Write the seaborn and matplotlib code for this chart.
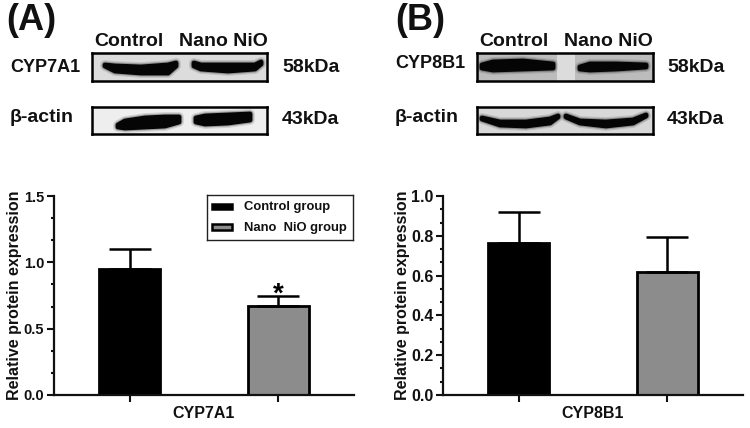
import matplotlib
matplotlib.use('Agg')
import matplotlib.pyplot as plt
import pandas as pd
import seaborn as sns
from matplotlib.patches import Rectangle
from matplotlib.ticker import MultipleLocator

W, H = 750, 428

groups = ["Control group", "Nano  NiO group"]
genes = ["CYP7A1", "CYP8B1"]
means_a = [0.95, 0.67]
upper_a = [1.10, 0.745]
means_b = [0.765, 0.62]
upper_b = [0.92, 0.795]
colors = ["#000000", "#8c8c8c"]

# band outlines on the blots in picture pixels: x, top edge, bottom edge
bands_a_top = [([105, 115, 141, 168, 176], [65, 66, 67, 65, 63], [66, 71, 73, 73, 66]),
               ([194, 201, 228, 255, 261], [63, 65, 65, 65, 62], [66, 69, 71, 69, 64])]
bands_a_bot = [([118, 125, 145, 165, 179], [125, 121, 118, 117, 117], [127, 128, 127, 126, 122]),
               ([196, 205, 228, 250], [118, 116, 115, 114], [122, 124, 123, 120])]
bands_b_top = [([482, 493, 523, 553], [65, 62, 61, 64], [68, 70, 69, 68]),
               ([580, 590, 616, 646], [67, 64, 64, 65], [69, 70, 69, 67])]
bands_b_bot = [([482, 500, 526, 550, 558], [118, 122, 122, 119, 116], [119, 125, 126, 123, 117]),
               ([566, 580, 606, 633, 646], [116, 121, 122, 120, 115], [117, 123, 126, 123, 116])]

sns.set_theme(style="ticks")
plt.rcParams['font.family'] = ['Liberation Sans', 'DejaVu Sans']
plt.rcParams['font.weight'] = 'bold'


def px_axes(fig, x0, y0, x1, y1):
    return fig.add_axes([x0 / W, 1 - y1 / H, (x1 - x0) / W, (y1 - y0) / H])


def label(fig, x, y, s, size, ha='left', **kw):
    fig.text(x / W, 1 - y / H, s, fontsize=size, fontweight='bold', ha=ha, va='center', color='#111111', **kw)


def draw_bars(fig, box, means, upper, ymax, major, minor, tick_size):
    ax = px_axes(fig, *box)
    df = pd.DataFrame({"group": groups, "value": means})
    sns.barplot(data=df, x="group", y="value", hue="group", palette=colors, width=0.41,
                edgecolor="black", linewidth=2, saturation=1, legend=False, ax=ax)
    for i in range(2):
        ax.errorbar(i, means[i], yerr=[[0], [upper[i] - means[i]]], color="black",
                    elinewidth=1.8, capsize=15, capthick=1.8, zorder=1)
    ax.set_xlim(-0.51, 1.51)
    ax.set_ylim(0, ymax)
    ax.yaxis.set_major_locator(MultipleLocator(major))
    ax.yaxis.set_minor_locator(MultipleLocator(minor))
    ax.yaxis.set_major_formatter('{x:.1f}')
    ax.set_xticks([0, 1])
    ax.set_xticklabels(["", ""])
    ax.tick_params(axis='y', which='major', length=5, width=1.5, labelsize=tick_size, pad=2, colors='#111111')
    ax.tick_params(axis='y', which='minor', length=2.5, width=1.5, colors='#111111')
    ax.tick_params(axis='x', length=5, width=1.5, colors='#111111')
    for t in ax.get_yticklabels():
        t.set_fontweight('bold')
    for s in ['top', 'right']:
        ax.spines[s].set_visible(False)
    for s in ['left', 'bottom']:
        ax.spines[s].set_linewidth(1.6)
        ax.spines[s].set_color('#111111')
    ax.set_xlabel("")
    ax.set_ylabel("")
    return ax


def draw_blot(fig, box, bands, bg, gap=None):
    ax = px_axes(fig, *box)
    ax.set_xlim(box[0], box[2])
    ax.set_ylim(box[3], box[1])
    ax.set_facecolor(bg)
    ax.set_xticks([])
    ax.set_yticks([])
    for s in ax.spines.values():
        s.set_linewidth(1.8)
        s.set_color('black')
    if gap:
        ax.axvspan(gap[0], gap[1], color='#dcdcdc', lw=0)
    for xs, top, bottom in bands:
        px = xs + xs[::-1]
        py = top + bottom[::-1]
        # soft halo round the dark band
        ax.fill(px, py, fc='none', ec='black', lw=7, alpha=0.12, joinstyle='round')
        ax.fill(px, py, fc='none', ec='black', lw=5, alpha=0.25, joinstyle='round')
        ax.fill(px, py, fc='#050505', ec='#050505', lw=3.5, joinstyle='round')


fig = plt.figure(figsize=(W / 100, H / 100), dpi=100)

ax_a = draw_bars(fig, (54, 196, 354, 395), means_a, upper_a, 1.5, 0.5, 0.5 / 3, 10.5)
ax_b = draw_bars(fig, (443, 196, 743, 395), means_b, upper_b, 1.0, 0.2, 0.2 / 3, 11.5)

label(fig, 204, 414, genes[0], 11.5, ha='center')
label(fig, 593, 414, genes[1], 11.5, ha='center')
label(fig, 15, 295, "Relative protein expression", 11.5, ha='center', rotation=90)
label(fig, 403, 295, "Relative protein expression", 11.5, ha='center', rotation=90)
ax_a.text(1, upper_a[1] + 0.015, "*", fontsize=20, fontweight='bold', ha='center', va='center', color='black')

# legend
leg = px_axes(fig, 207, 195, 353, 240)
leg.set_xlim(207, 353)
leg.set_ylim(240, 195)
leg.set_xticks([])
leg.set_yticks([])
for s in leg.spines.values():
    s.set_linewidth(1.0)
    s.set_color('#222222')
leg.add_patch(Rectangle((212, 204), 20, 5, fc=colors[0], ec='black', lw=1.8))
leg.add_patch(Rectangle((212, 224), 20, 6, fc=colors[1], ec='black', lw=1.8))
leg.text(244, 207, groups[0], fontsize=9.4, fontweight='bold', va='center', color='#111111')
leg.text(244, 228, groups[1], fontsize=9.4, fontweight='bold', va='center', color='#111111')

# western blots
draw_blot(fig, (92, 53, 267, 81), bands_a_top, '#dcdcdc')
draw_blot(fig, (92, 107, 267, 134), bands_a_bot, '#eeeeee')
draw_blot(fig, (477, 53, 653, 81), bands_b_top, '#bcbcbc', gap=(557, 575))
draw_blot(fig, (477, 107, 653, 134), bands_b_bot, '#d8d8d8')

label(fig, 6, 21, "(A)", 26)
label(fig, 395, 20, "(B)", 26)
for dx, dy in [(0, 0), (385, -1)]:
    label(fig, 94 + dx, 42 + dy, "Control", 14)
    label(fig, 179 + dx, 42 + dy, "Nano NiO", 14)
label(fig, 10, 67, "CYP7A1", 13)
label(fig, 395, 63, "CYP8B1", 13)
label(fig, 10, 117, "β-actin", 14)
label(fig, 395, 118, "β-actin", 14)
label(fig, 282, 67, "58kDa", 14)
label(fig, 282, 120, "43kDa", 14)
label(fig, 667, 67, "58kDa", 14)
label(fig, 667, 120, "43kDa", 14)

fig.savefig("out.png", dpi=100)
